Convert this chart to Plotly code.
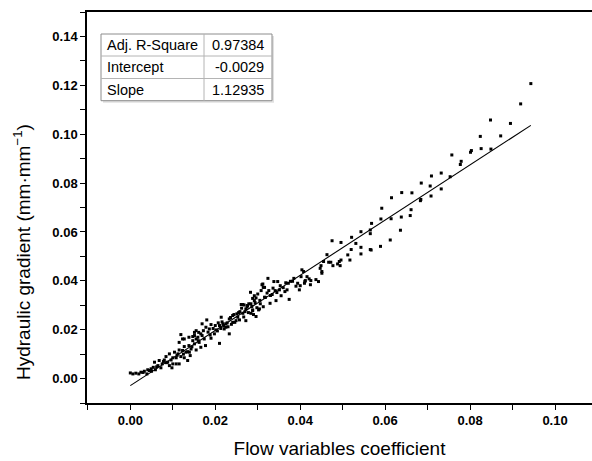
import plotly.graph_objects as go

# Scatter data (flow variables coefficient, hydraulic gradient)
x_vals = [
    0.0000, 0.0006, 0.0013, 0.0020, 0.0025, 0.0033, 0.0039, 0.0041, 0.0045, 0.0049,
    0.0054, 0.0059, 0.0057, 0.0065, 0.0068, 0.0075, 0.0072, 0.0080, 0.0084, 0.0088,
    0.0092, 0.0096, 0.0100, 0.0104, 0.0108, 0.0112, 0.0115, 0.0119, 0.0123, 0.0127,
    0.0131, 0.0135, 0.0138, 0.0141, 0.0143, 0.0147, 0.0151, 0.0155, 0.0159, 0.0162,
    0.0166, 0.0169, 0.0172, 0.0174, 0.0177, 0.0155, 0.0151, 0.0123, 0.0115, 0.0127,
    0.0139, 0.0108, 0.0098, 0.0092,
    0.0310, 0.0313, 0.0292, 0.0296, 0.0300, 0.0279, 0.0284, 0.0268, 0.0261, 0.0272,
    0.0288, 0.0302, 0.0313, 0.0296, 0.0265, 0.0258, 0.0251, 0.0253, 0.0241, 0.0233,
    0.0241, 0.0249, 0.0257, 0.0225, 0.0218, 0.0210, 0.0221, 0.0200, 0.0190, 0.0186,
    0.0178, 0.0180, 0.0169, 0.0161, 0.0166, 0.0151, 0.0147, 0.0155, 0.0138, 0.0127,
    0.0119, 0.0115, 0.0190, 0.0198, 0.0210, 0.0225, 0.0233, 0.0214, 0.0202, 0.0272,
    0.0284,
    0.0475, 0.0496, 0.0521, 0.0543, 0.0568, 0.0565, 0.0590, 0.0567, 0.0543, 0.0531,
    0.0520, 0.0512, 0.0496, 0.0492, 0.0463, 0.0455, 0.0467, 0.0472, 0.0488, 0.0477,
    0.0447, 0.0451, 0.0404, 0.0408, 0.0402, 0.0416, 0.0425, 0.0421, 0.0437, 0.0411,
    0.0394, 0.0398, 0.0377, 0.0382, 0.0372, 0.0369, 0.0374, 0.0364, 0.0355, 0.0351,
    0.0341, 0.0324, 0.0338, 0.0347, 0.0312, 0.0316, 0.0308, 0.0326, 0.0334, 0.0343,
    0.0329, 0.0316, 0.0292, 0.0283, 0.0288, 0.0306, 0.0276, 0.0265, 0.0270, 0.0304,
    0.0288, 0.0424, 0.0443, 0.0410, 0.0400, 0.0412, 0.0517, 0.0494, 0.0449, 0.0451,
    0.0565, 0.0592, 0.0612, 0.0614, 0.0615, 0.0636, 0.0638, 0.0639, 0.0659, 0.0661,
    0.0663, 0.0683, 0.0684, 0.0685, 0.0706, 0.0708, 0.0709, 0.0732, 0.0732, 0.0543,
    0.0565, 0.0589, 0.0753, 0.0757, 0.0777, 0.0779, 0.0801, 0.0803, 0.0824, 0.0826,
    0.0848, 0.0849, 0.0872, 0.0895, 0.0919, 0.0943,
    0.0183, 0.0188, 0.0195, 0.0205, 0.0207, 0.0213, 0.0216, 0.0220, 0.0228, 0.0230,
    0.0236, 0.0238, 0.0244, 0.0246, 0.0255, 0.0262, 0.0267, 0.0275, 0.0278, 0.0286,
    0.0290, 0.0294, 0.0298, 0.0305, 0.0318, 0.0322, 0.0330, 0.0336, 0.0345, 0.0353,
    0.0360, 0.0366, 0.0385, 0.0390, 0.0160, 0.0145, 0.0135, 0.0125, 0.0110, 0.0100,
    0.0085, 0.0078, 0.0062, 0.0050, 0.0030,
]
y_vals = [
    0.0023, 0.0019, 0.0022, 0.0019, 0.0026, 0.0030, 0.0019, 0.0036, 0.0033, 0.0040,
    0.0046, 0.0036, 0.0067, 0.0053, 0.0074, 0.0060, 0.0044, 0.0076, 0.0090, 0.0067,
    0.0101, 0.0076, 0.0060, 0.0108, 0.0085, 0.0101, 0.0117, 0.0090, 0.0115, 0.0131,
    0.0108, 0.0074, 0.0135, 0.0094, 0.0121, 0.0155, 0.0142, 0.0117, 0.0169, 0.0148,
    0.0128, 0.0176, 0.0196, 0.0162, 0.0135, 0.0196, 0.0176, 0.0162, 0.0060, 0.0085,
    0.0108, 0.0060, 0.0044, 0.0053,
    0.0384, 0.0373, 0.0339, 0.0330, 0.0346, 0.0306, 0.0306, 0.0301, 0.0303, 0.0285,
    0.0281, 0.0281, 0.0294, 0.0254, 0.0267, 0.0274, 0.0265, 0.0251, 0.0258, 0.0244,
    0.0230, 0.0237, 0.0240, 0.0224, 0.0224, 0.0217, 0.0203, 0.0217, 0.0221, 0.0203,
    0.0210, 0.0240, 0.0224, 0.0189, 0.0183, 0.0189, 0.0172, 0.0162, 0.0169, 0.0162,
    0.0180, 0.0148, 0.0165, 0.0183, 0.0144, 0.0210, 0.0183, 0.0251, 0.0199, 0.0237,
    0.0267,
    0.0564, 0.0557, 0.0578, 0.0601, 0.0635, 0.0608, 0.0653, 0.0526, 0.0510, 0.0553,
    0.0528, 0.0506, 0.0485, 0.0479, 0.0507, 0.0479, 0.0476, 0.0476, 0.0469, 0.0462,
    0.0451, 0.0438, 0.0445, 0.0438, 0.0417, 0.0417, 0.0401, 0.0408, 0.0405, 0.0397,
    0.0390, 0.0363, 0.0398, 0.0398, 0.0390, 0.0363, 0.0324, 0.0356, 0.0339, 0.0363,
    0.0360, 0.0410, 0.0397, 0.0397, 0.0387, 0.0373, 0.0360, 0.0360, 0.0344, 0.0319,
    0.0308, 0.0333, 0.0319, 0.0353, 0.0328, 0.0306, 0.0299, 0.0303, 0.0274, 0.0285,
    0.0278, 0.0384, 0.0397, 0.0390, 0.0380, 0.0401, 0.0485, 0.0462, 0.0462, 0.0431,
    0.0593, 0.0697, 0.0567, 0.0654, 0.0740, 0.0607, 0.0661, 0.0761, 0.0667, 0.0691,
    0.0760, 0.0728, 0.0733, 0.0800, 0.0788, 0.0747, 0.0829, 0.0841, 0.0776, 0.0537,
    0.0528, 0.0541, 0.0826, 0.0915, 0.0876, 0.0889, 0.0926, 0.0933, 0.0991, 0.0941,
    0.1058, 0.0939, 0.0993, 0.1044, 0.1124, 0.1207,
    0.0190, 0.0178, 0.0205, 0.0195, 0.0228, 0.0205, 0.0232, 0.0215, 0.0228, 0.0212,
    0.0250, 0.0222, 0.0262, 0.0230, 0.0270, 0.0288, 0.0252, 0.0293, 0.0270, 0.0295,
    0.0262, 0.0310, 0.0290, 0.0320, 0.0332, 0.0350, 0.0340, 0.0370, 0.0352, 0.0380,
    0.0372, 0.0392, 0.0410, 0.0378, 0.0155, 0.0130, 0.0110, 0.0100, 0.0095, 0.0085,
    0.0065, 0.0070, 0.0048, 0.0030, 0.0025,
]

# Linear fit statistics
stat_names = ["Adj. R-Square", "Intercept", "Slope"]
stat_values = ["0.97384", "-0.0029", "1.12935"]
intercept = -0.0029
slope = 1.12935
fit_x = [0.0, 0.0943]
fit_y = [intercept + slope * v for v in fit_x]

x_ticks = [0.00, 0.02, 0.04, 0.06, 0.08, 0.10]
y_ticks = [0.00, 0.02, 0.04, 0.06, 0.08, 0.10, 0.12, 0.14]

W, H = 592, 461
ML, MR, MT, MB = 87, 0, 12, 58
PW, PH = W - ML - MR, H - MT - MB

def px(xp):
    return (xp - ML) / PW

def py(yp):
    return (H - MB - yp) / PH

FONT = "Liberation Sans, Arial"

fig = go.Figure()
fig.add_trace(go.Scatter(
    x=x_vals, y=y_vals, mode="markers",
    marker=dict(symbol="square", size=3, color="black", line=dict(width=0)),
    showlegend=False, hoverinfo="skip"))
fig.add_trace(go.Scatter(
    x=fit_x, y=fit_y, mode="lines",
    line=dict(color="black", width=1.1),
    showlegend=False, hoverinfo="skip"))

fig.update_xaxes(
    range=[-0.0102, 0.1087], tickvals=x_ticks,
    ticktext=[f"{v:.2f}" for v in x_ticks],
    ticks="outside", ticklen=5, tickwidth=1, tickcolor="black",
    minor=dict(dtick=0.01, tick0=0, ticks="outside", ticklen=5, tickcolor="black", showgrid=False),
    showline=True, linecolor="black", linewidth=1.5, mirror=True,
    showgrid=False, zeroline=False,
    tickfont=dict(family=FONT, size=13, color="black", weight="bold"),
    title=dict(text="Flow variables coefficient",
               font=dict(family=FONT, size=19, color="black"),
               standoff=14),
)
fig.update_yaxes(
    range=[-0.01, 0.15], tickvals=y_ticks,
    ticktext=[f"{v:.2f}" for v in y_ticks],
    ticks="outside", ticklen=5, tickwidth=1, tickcolor="black",
    minor=dict(dtick=0.01, tick0=0, ticks="outside", ticklen=5, tickcolor="black", showgrid=False),
    showline=True, linecolor="black", linewidth=1.5, mirror=False,
    showgrid=False, zeroline=False,
    tickfont=dict(family=FONT, size=13, color="black", weight="bold"),
)

# stats table
tx0, tx1, tcol = 101, 272, 204
ty = [34, 56, 78.5, 100.7]
shapes = [
    dict(type="rect", xref="paper", yref="paper", x0=px(tx0 + 2), x1=px(tx1 + 2),
         y0=py(ty[3] + 2), y1=py(ty[0] + 2), line=dict(width=0), fillcolor="rgba(0,0,0,0.12)"),
    dict(type="rect", xref="paper", yref="paper", x0=px(tx0), x1=px(tx1),
         y0=py(ty[3]), y1=py(ty[0]), line=dict(color="#8c8c8c", width=1), fillcolor="white"),
    dict(type="line", xref="paper", yref="paper", x0=px(tcol), x1=px(tcol),
         y0=py(ty[3]), y1=py(ty[0]), line=dict(color="#b4b4b4", width=1)),
]
for r in (1, 2):
    shapes.append(dict(type="line", xref="paper", yref="paper", x0=px(tx0), x1=px(tx1),
                       y0=py(ty[r]), y1=py(ty[r]), line=dict(color="#b4b4b4", width=1)))

annotations = []
for i, (n, v) in enumerate(zip(stat_names, stat_values)):
    yc = py((ty[i] + ty[i + 1]) / 2)
    annotations.append(dict(text=n, xref="paper", yref="paper", x=px(tx0 + 4), y=yc,
                            xanchor="left", yanchor="middle", showarrow=False,
                            font=dict(family=FONT, size=14.5, color="black")))
    annotations.append(dict(text=v, xref="paper", yref="paper", x=px(tx1 - 6), y=yc,
                            xanchor="right", yanchor="middle", showarrow=False,
                            font=dict(family=FONT, size=14.5, color="black")))

annotations.append(dict(text="Hydraulic gradient (mm·mm<sup>−1</sup>)", textangle=-90,
                        xref="paper", yref="paper", x=px(22), y=py(252),
                        xanchor="center", yanchor="middle", showarrow=False,
                        font=dict(family=FONT, size=19, color="black")))

fig.update_layout(
    width=W, height=H, margin=dict(l=ML, r=MR, t=MT, b=MB),
    paper_bgcolor="white", plot_bgcolor="white",
    shapes=shapes, annotations=annotations,
)
fig.write_html("out.html", config={"displayModeBar": False},
               post_script="document.body.style.margin='0';")
